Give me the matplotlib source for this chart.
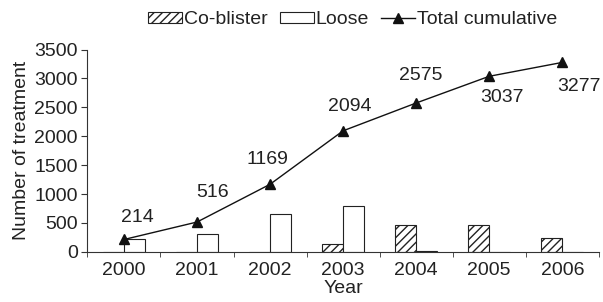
import matplotlib.pyplot as plt
import numpy as np

plt.rcParams['font.family'] = ['Liberation Sans', 'DejaVu Sans']
plt.rcParams['hatch.linewidth'] = 1.0
plt.rcParams['text.color'] = '#222222'
plt.rcParams['axes.labelcolor'] = '#222222'
plt.rcParams['xtick.color'] = '#333333'
plt.rcParams['ytick.color'] = '#333333'
plt.rcParams['xtick.labelcolor'] = '#222222'
plt.rcParams['ytick.labelcolor'] = '#222222'

years = ['2000', '2001', '2002', '2003', '2004', '2005', '2006']
co_blister = [0, 0, 0, 130, 466, 462, 240]
loose = [214, 302, 653, 795, 15, 0, 0]
total = [214, 516, 1169, 2094, 2575, 3037, 3277]
# label offsets (points) for the cumulative labels
label_off = [(9.5, 16), (11, 21), (-2, 17.5), (5, 17.5), (3.5, 20), (9.5, -15), (12, -17.5)]

fig = plt.figure(figsize=(6.03, 3.02), dpi=100)
ax = fig.add_axes([0.145, 0.166, 0.848, 0.670])

x = np.arange(len(years))
w = 0.29
b1 = ax.bar(x - w / 2, co_blister, w, color='white', edgecolor='#222222',
            hatch='////', linewidth=0.8)
b2 = ax.bar(x + w / 2, loose, w, color='white', edgecolor='#222222',
            linewidth=0.8)
ln, = ax.plot(x, total, '-', color='#111111', marker='^', markersize=7.5,
              linewidth=1)

for xi, v, off in zip(x, total, label_off):
    ax.annotate(str(v), (xi, v), xytext=off, textcoords='offset points',
                ha='center', va='center', fontsize=14)

ax.set_xlim(-0.5, len(years) - 0.5)
ax.set_ylim(0, 3500)
ax.set_yticks(np.arange(0, 3501, 500))
ax.set_xticks(x)
ax.set_xticklabels(years)
ax.set_xticks(np.arange(-0.5, len(years)), minor=True)
ax.tick_params(axis='x', which='major', length=0, labelsize=14, pad=7)
ax.tick_params(axis='x', which='minor', length=3.5, direction='out')
ax.tick_params(axis='y', labelsize=14, length=4, direction='out', pad=3)
ax.spines['top'].set_visible(False)
ax.spines['right'].set_visible(False)
for s in ('left', 'bottom'):
    ax.spines[s].set_color('#333333')
ax.set_xlabel('Year', fontsize=14, labelpad=1)
ax.set_ylabel('Number of treatment', fontsize=14, labelpad=3)

fig.legend([b1, b2, ln], ['Co-blister', 'Loose', 'Total cumulative'],
           loc='center', bbox_to_anchor=(0.585, 0.934), ncol=3, frameon=False,
           fontsize=14, handlelength=1.75, handletextpad=0.1, columnspacing=0.6,
           handleheight=0.53)

fig.savefig('out.png', dpi=100)
